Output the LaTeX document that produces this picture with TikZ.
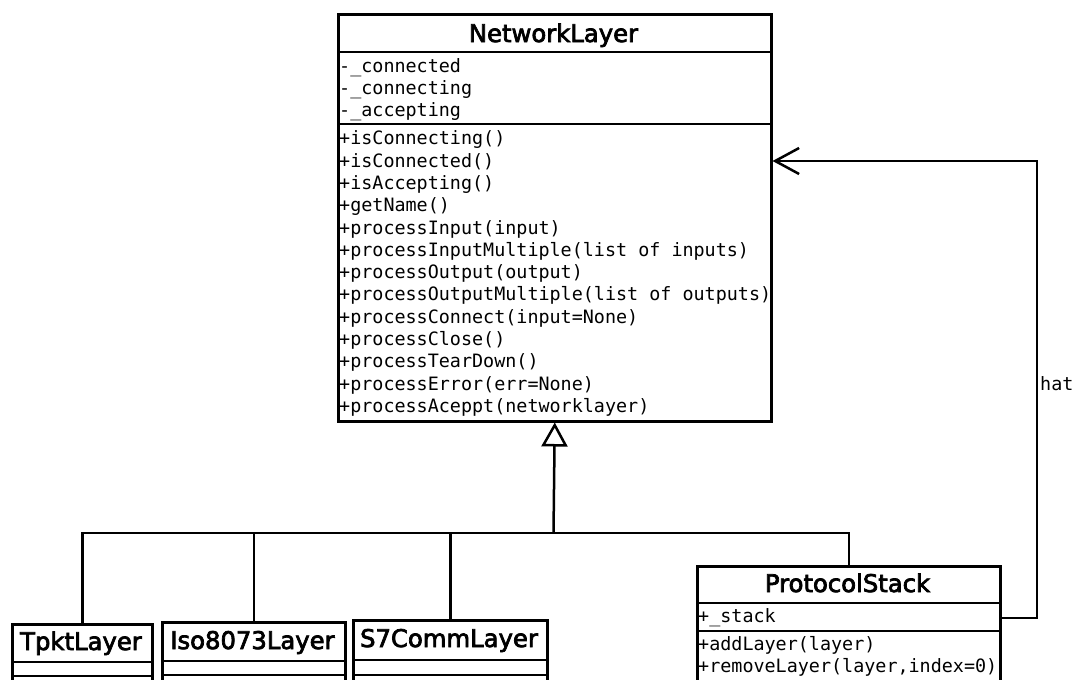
\documentclass[tikz,border=0pt]{standalone}
\usepackage{fontspec}
\newfontfamily\umlmono{DejaVu Sans Mono}
\newfontfamily\umltitle{DejaVu Sans}[FakeBold=3]
\usetikzlibrary{arrows.meta}

\begin{document}
\begin{tikzpicture}[x=1pt,y=-1pt,
  classbox/.style={draw, line width=2.5pt, rectangle, inner sep=0pt, anchor=north west},
  sepline/.style={line width=2.3pt},
  classname/.style={font=\umltitle\fontsize{24.3}{28}\selectfont, anchor=base, inner sep=0pt},
  member/.style={font=\umlmono\fontsize{18.4}{22.3}\selectfont, anchor=base west, inner sep=0pt},
  link/.style={line width=2.5pt},
  inherits/.style={link, -{Triangle[open, length=24pt, width=26pt, line width=2.5pt]}},
  assoc/.style={link, -{Straight Barb[length=24pt, width=26pt, line width=2.5pt]}}
]
\useasboundingbox (0,0) rectangle (1074,680);
\fill[white] (0,0) rectangle (1074,680);
\clip (0,0) rectangle (1074,680);

% ---------- NetworkLayer ----------
\node[classbox, minimum width=433pt, minimum height=407pt] (net) at (337,13) {};
\node[classname] (netT) at (553.5,42) {NetworkLayer};
\draw[sepline] ([yshift=-39pt]net.north west) -- ([yshift=-39pt]net.north east);
\draw[sepline] ([yshift=-111pt]net.north west) -- ([yshift=-111pt]net.north east);
\foreach \t [count=\i] in {-\_connected, -\_connecting, -\_accepting}
  \node[member] (net-a\i) at (339,{72+(\i-1)*22.3}) {\t};
\foreach \t [count=\i] in {
  +isConnecting(),
  +isConnected(),
  +isAccepting(),
  +getName(),
  +processInput(input),
  +processInputMultiple(list of inputs),
  +processOutput(output),
  +processOutputMultiple(list of outputs),
  +processConnect(input=None),
  +processClose(),
  +processTearDown(),
  +processError(err=None),
  +processAceppt(networklayer)}
  \node[member] (net-m\i) at (339,{144.8+(\i-1)*22.3}) {\t};

% ---------- ProtocolStack ----------
\node[classbox, minimum width=303pt, minimum height=160pt] (ps) at (696,565) {};
\node[classname] (psT) at (847.5,592) {ProtocolStack};
\draw[sepline] ([yshift=-38pt]ps.north west) -- ([yshift=-38pt]ps.north east);
\draw[sepline] ([yshift=-66pt]ps.north west) -- ([yshift=-66pt]ps.north east);
\node[member] (ps-a1) at (698,622) {+\_stack};
\node[member] (ps-m1) at (698,650) {+addLayer(layer)};
\node[member] (ps-m2) at (698,672) {+removeLayer(layer,index=0)};

% ---------- subclasses ----------
\node[classbox, minimum width=140pt, minimum height=100pt] (tpkt) at (11,623) {};
\node[classname] (tpktT) at (81,650) {TpktLayer};
\draw[sepline] ([yshift=-39pt]tpkt.north west) -- ([yshift=-39pt]tpkt.north east);
\draw[sepline] ([yshift=-53pt]tpkt.north west) -- ([yshift=-53pt]tpkt.north east);

\node[classbox, minimum width=183pt, minimum height=100pt] (iso) at (161,621) {};
\node[classname] (isoT) at (252.5,649) {Iso8073Layer};
\draw[sepline] ([yshift=-40pt]iso.north west) -- ([yshift=-40pt]iso.north east);
\draw[sepline] ([yshift=-54pt]iso.north west) -- ([yshift=-54pt]iso.north east);

\node[classbox, minimum width=194pt, minimum height=100pt] (s7) at (352,619) {};
\node[classname] (s7T) at (449,647) {S7CommLayer};
\draw[sepline] ([yshift=-41pt]s7.north west) -- ([yshift=-41pt]s7.north east);
\draw[sepline] ([yshift=-56pt]s7.north west) -- ([yshift=-56pt]s7.north east);

% ---------- generalization tree ----------
\coordinate (bus) at (553.5,533);
\draw[inherits] (bus) -- (net.south);
\draw[link] (tpkt.north) |- (bus) -| (ps.north);
\draw[link] (iso.north) -- (iso.north |- bus);
\draw[link] (s7.north) -- (s7.north |- bus);

% ---------- association ----------
\coordinate (turn) at (1037,161);
\draw[assoc] ([yshift=-53pt]ps.north east) -| (turn) -- (net.east |- turn);
\node[member] (hatL) at (1040,390) {hat};
\end{tikzpicture}
\end{document}
